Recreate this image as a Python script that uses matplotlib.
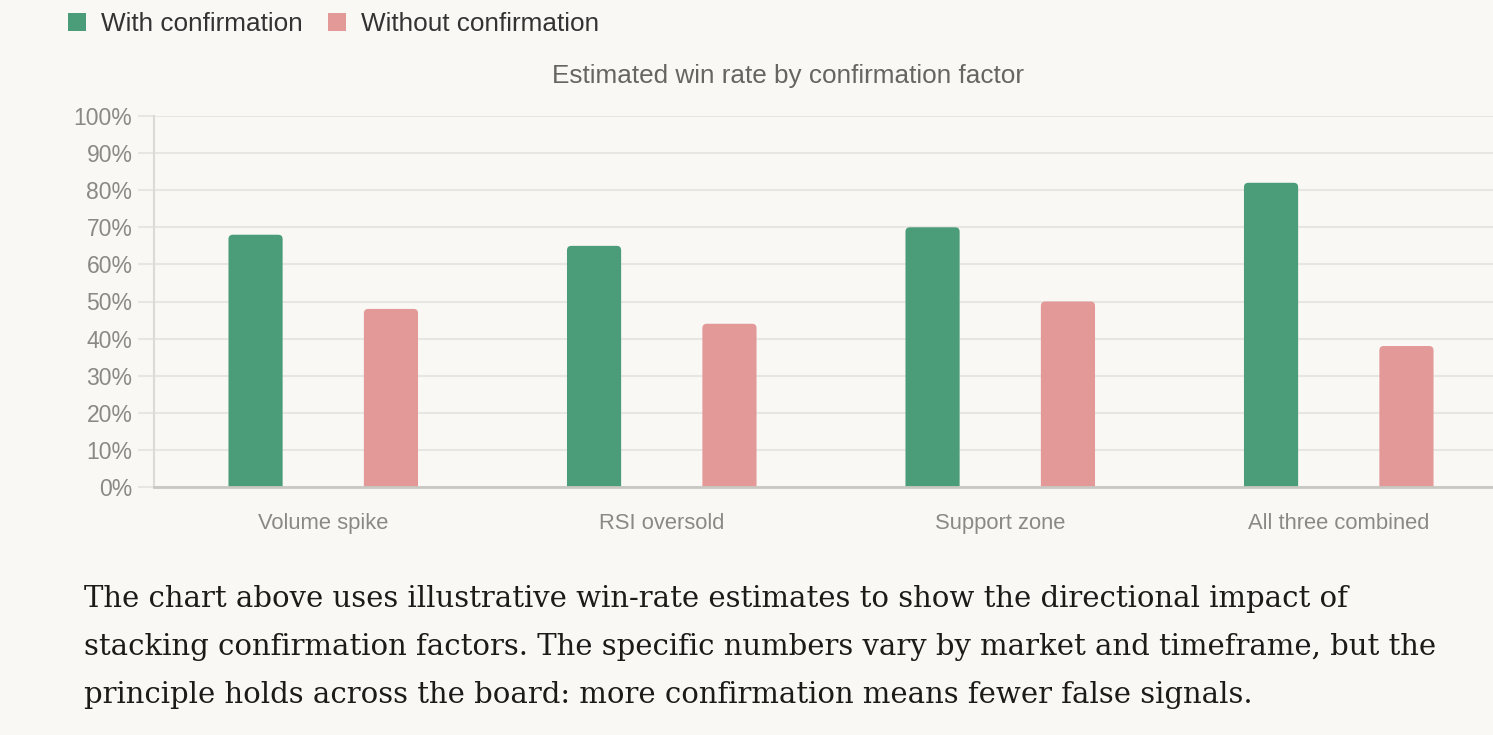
import matplotlib
matplotlib.use("Agg")
import matplotlib.pyplot as plt
from matplotlib.patches import FancyBboxPatch, Patch
import numpy as np

categories = ["Volume spike", "RSI oversold", "Support zone", "All three combined"]
with_conf = [68, 65, 70, 82]
without_conf = [48, 44, 50, 38]
yticks = [0, 10, 20, 30, 40, 50, 60, 70, 80, 90, 100]
series_names = ["With confirmation", "Without confirmation"]

bg = "#f9f8f5"
green = "#4b9d7a"
pink = "#e39998"
grid_c = "#e8e6e1"
tick_c = "#8a8984"

plt.rcParams['font.family'] = ['Liberation Sans', 'DejaVu Sans']

fig = plt.figure(figsize=(14.93, 7.35), dpi=100, facecolor=bg)
ax = fig.add_axes([154/1493, 1-487/735, 1354/1493, (487-116)/735])
ax.set_facecolor(bg)

x = np.arange(len(categories))
w = 0.16
b1 = ax.bar(x - 0.2, with_conf, w, color=green, zorder=3)
b2 = ax.bar(x + 0.2, without_conf, w, color=pink, zorder=3)

ax.set_xlim(-0.5, len(categories) - 0.5)
ax.set_ylim(0, 100)

# rounded tops: swap each bar for a rounded box of the same size
aspect = (100 / 371) / (len(categories) / 1354)
for bars in (b1, b2):
    for p in bars:
        p.set_visible(False)
        rb = FancyBboxPatch((p.get_x(), -3), p.get_width(), p.get_height() + 3,
                            boxstyle="round,pad=0,rounding_size=0.013",
                            mutation_aspect=aspect, facecolor=p.get_facecolor(),
                            edgecolor="none", zorder=3)
        ax.add_patch(rb)

ax.set_yticks(yticks)
ax.set_yticklabels([str(v) + "%" for v in yticks])
ax.set_xticks(x)
ax.set_xticklabels(categories)
ax.tick_params(axis="y", length=11.5, width=1.5, color=grid_c, labelcolor=tick_c, labelsize=16.5, pad=4)
ax.tick_params(axis="x", length=0, labelcolor=tick_c, labelsize=15.8, pad=19)
ax.grid(axis="y", color=grid_c, linewidth=1.5, zorder=0)

for s in ["top", "right"]:
    ax.spines[s].set_visible(False)
ax.spines["left"].set_color("#dcdad5")
ax.spines["left"].set_linewidth(1.5)
ax.spines["bottom"].set_color("#c9c7c2")
ax.spines["bottom"].set_linewidth(2)
ax.spines["bottom"].set_zorder(4)

fig.text(788/1493, 1-76/735, "Estimated win rate by confirmation factor",
         ha="center", va="center", fontsize=18.8, color="#666560")

handles = [Patch(facecolor=green, edgecolor="none"), Patch(facecolor=pink, edgecolor="none")]
leg = fig.legend(handles, series_names, loc="center left", bbox_to_anchor=(68/1493, 1-24/735),
                 ncol=2, frameon=False, fontsize=18.8, handlelength=0.69, handleheight=0.69,
                 handletextpad=0.57, columnspacing=0.96, borderpad=0, borderaxespad=0,
                 labelcolor="#333333")

para = ["The chart above uses illustrative win-rate estimates to show the directional impact of",
        "stacking confirmation factors. The specific numbers vary by market and timeframe, but the",
        "principle holds across the board: more confirmation means fewer false signals."]
base_y = [607, 655, 703]
for line, yy in zip(para, base_y):
    fig.text(84/1493, 1-yy/735, line, ha="left", va="baseline", fontsize=20.95,
             family="DejaVu Serif", color="#1c1b19")

fig.savefig("out.png", dpi=100, facecolor=bg)
